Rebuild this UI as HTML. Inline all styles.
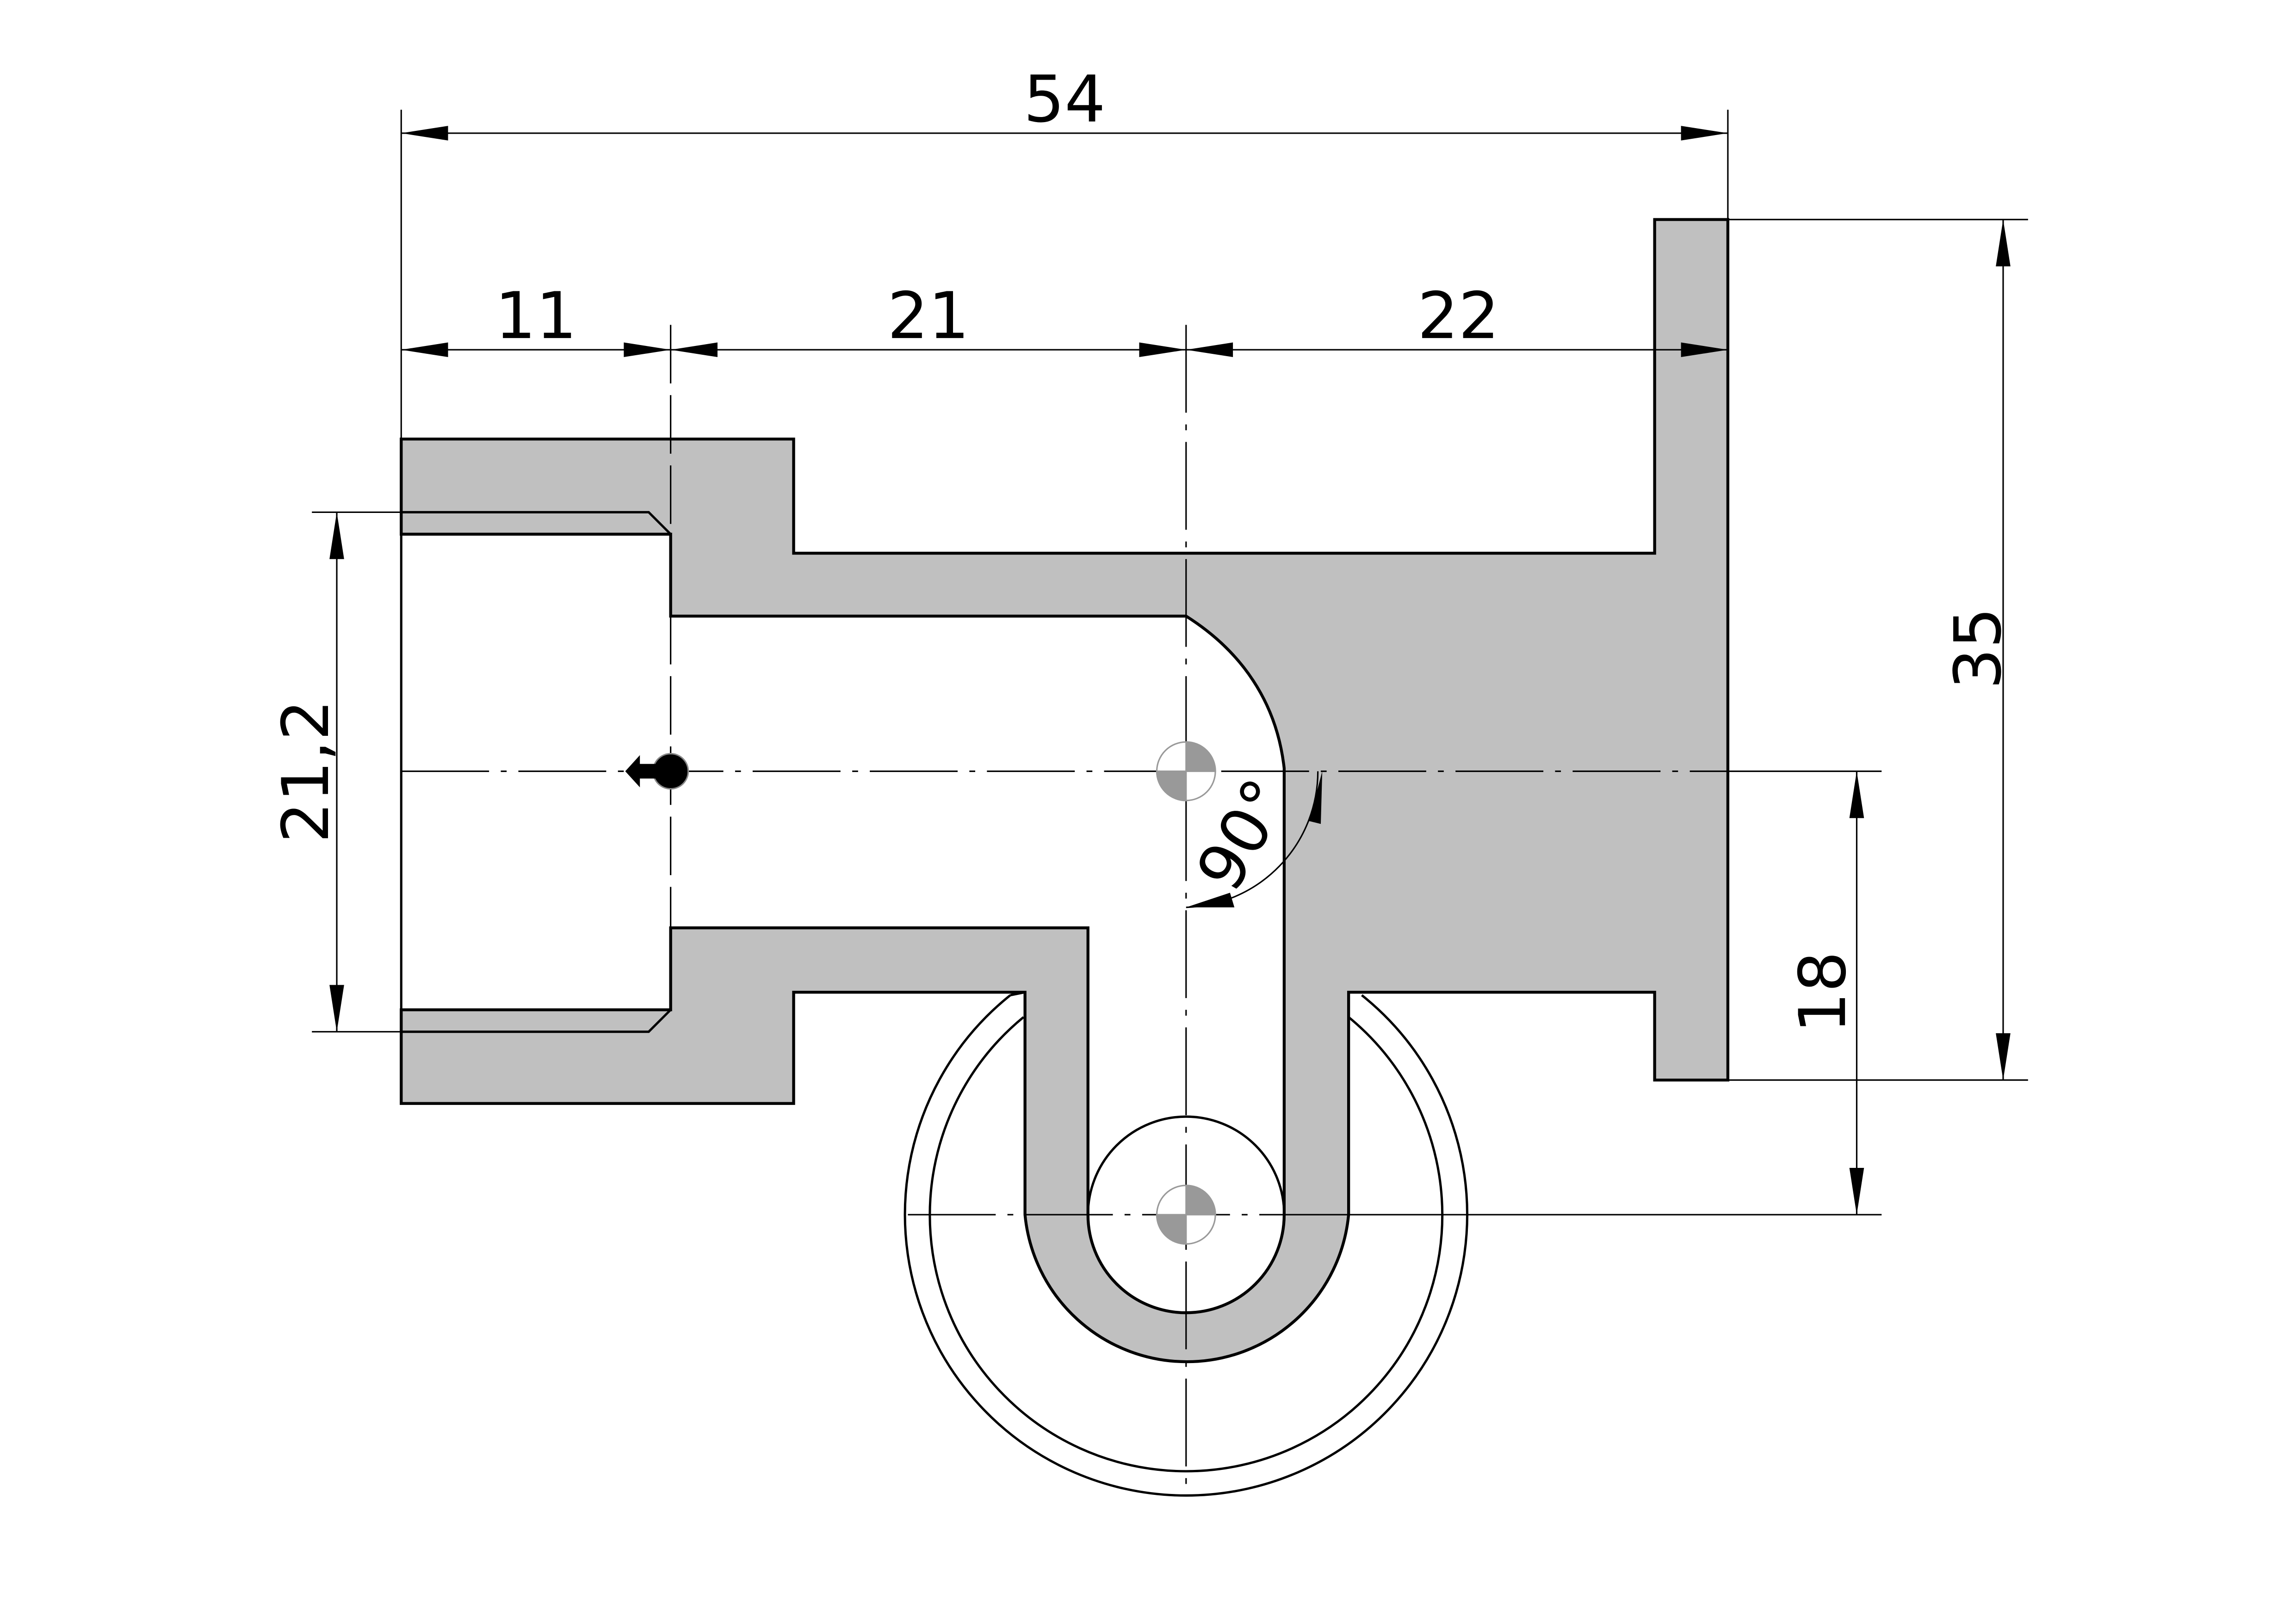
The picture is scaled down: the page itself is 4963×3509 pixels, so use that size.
<!DOCTYPE html>
<html><head><meta charset="utf-8"><style>html,body{margin:0;padding:0;background:#fff}svg{display:block}</style></head>
<body>
<svg width="4963" height="3509" viewBox="0 0 1568 1109" preserveAspectRatio="none" xmlns="http://www.w3.org/2000/svg">
<rect width="1568" height="1109" fill="#fff"/>
<g fill="none" stroke="#000" stroke-width="1.6">
<path d="M690,680 A192,192 0 1 0 930,680"/>
<path d="M699,695 A175,175 0 1 0 921,695"/>
</g>
<path d="M274,300 L542,300 L542,378 L1130,378 L1130,150 L1180,150 L1180,738 L1130,738 L1130,678 L921,678 L921,830 A111,111 0 0 1 700,830 L700,678 L542,678 L542,754 L274,754 L274,690 L458,690 L458,634 L743,634 L743,830 A67,67 0 0 0 877,830 L877,525 C872,480 848,445 810,421 L458,421 L458,365 L274,365 Z" fill="#c0c0c0" stroke="#000" stroke-width="2"/>
<g fill="none" stroke="#000" stroke-width="1.6">
<line x1="274" y1="300" x2="274" y2="754"/>
<path d="M274,350 L443,350 L458,365"/>
<path d="M274,705 L443,705 L458,690"/>
<circle cx="810" cy="830" r="67"/>
<line x1="690" y1="680" x2="700" y2="678"/>
</g>
<g stroke="#000" stroke-width="1">
<line x1="274" y1="75" x2="274" y2="300"/>
<line x1="1180" y1="75" x2="1180" y2="150"/>
<line x1="274" y1="91" x2="1180" y2="91"/>
<line x1="274" y1="239" x2="1180" y2="239"/>
<line x1="1180" y1="150" x2="1385" y2="150"/>
<line x1="1180" y1="738" x2="1385" y2="738"/>
<line x1="877" y1="830" x2="1285" y2="830"/>
<line x1="1180" y1="527" x2="1285" y2="527"/>
<line x1="213" y1="350" x2="274" y2="350"/>
<line x1="213" y1="705" x2="274" y2="705"/>
<line x1="1368" y1="150" x2="1368" y2="738"/>
<line x1="1268" y1="527" x2="1268" y2="830"/>
<line x1="230" y1="350" x2="230" y2="705"/>
<line x1="274" y1="527" x2="1180" y2="527" stroke-dasharray="60,8,4,8"/>
<line x1="620" y1="830" x2="877" y2="830" stroke-dasharray="60,8,4,8"/>
<line x1="810" y1="222" x2="810" y2="1021" stroke-dasharray="60,8,4,8"/>
<line x1="458" y1="222" x2="458" y2="634" stroke-dasharray="40,8"/>
<path d="M810,620 A93,93 0 0 0 900,527" fill="none"/>
</g>
<g fill="#000">
<path d="M274,91 L306,86 L306,96Z"/><path d="M1180,91 L1148,86 L1148,96Z"/>
<path d="M274,239 L306,234 L306,244Z"/><path d="M458,239 L426,234 L426,244Z"/>
<path d="M458,239 L490,234 L490,244Z"/><path d="M810,239 L778,234 L778,244Z"/>
<path d="M810,239 L842,234 L842,244Z"/><path d="M1180,239 L1148,234 L1148,244Z"/>
<path d="M1368,150 L1363,182 L1373,182Z"/><path d="M1368,738 L1363,706 L1373,706Z"/>
<path d="M1268,527 L1263,559 L1273,559Z"/><path d="M1268,830 L1263,798 L1273,798Z"/>
<path d="M230,350 L225,382 L235,382Z"/><path d="M230,705 L225,673 L235,673Z"/>
<path d="M810,620 L840,610 L843,620Z"/><path d="M903,527 L902,563 L894,561Z"/>
<circle cx="458" cy="527" r="12" stroke="#888" stroke-width="1"/>
<path d="M427,527 L437,516 L437,522 L450,522 L450,532 L437,532 L437,538Z"/>
</g>
<g stroke="#999" stroke-width="1">
<circle cx="810" cy="527" r="20" fill="#fff"/>
<path d="M810,527 L810,507 A20,20 0 0 1 830,527Z" fill="#999"/>
<path d="M810,527 L810,547 A20,20 0 0 1 790,527Z" fill="#999"/>
<circle cx="810" cy="830" r="20" fill="#fff"/>
<path d="M810,830 L810,810 A20,20 0 0 1 830,830Z" fill="#999"/>
<path d="M810,830 L810,850 A20,20 0 0 1 790,830Z" fill="#999"/>
</g>
<g font-family="DejaVu Sans, Liberation Sans, sans-serif" font-size="44" fill="#000" text-anchor="middle">
<text x="727" y="83">54</text>
<text x="366" y="231">11</text>
<text x="634" y="231">21</text>
<text x="996" y="231">22</text>
<text transform="translate(1366,443) rotate(-90)">35</text>
<text transform="translate(1260,678) rotate(-90)">18</text>
<text transform="translate(224,527) rotate(-90)">21,2</text>
<text transform="translate(862,578) rotate(-60)">90°</text>
</g>
</svg>
</body></html>
